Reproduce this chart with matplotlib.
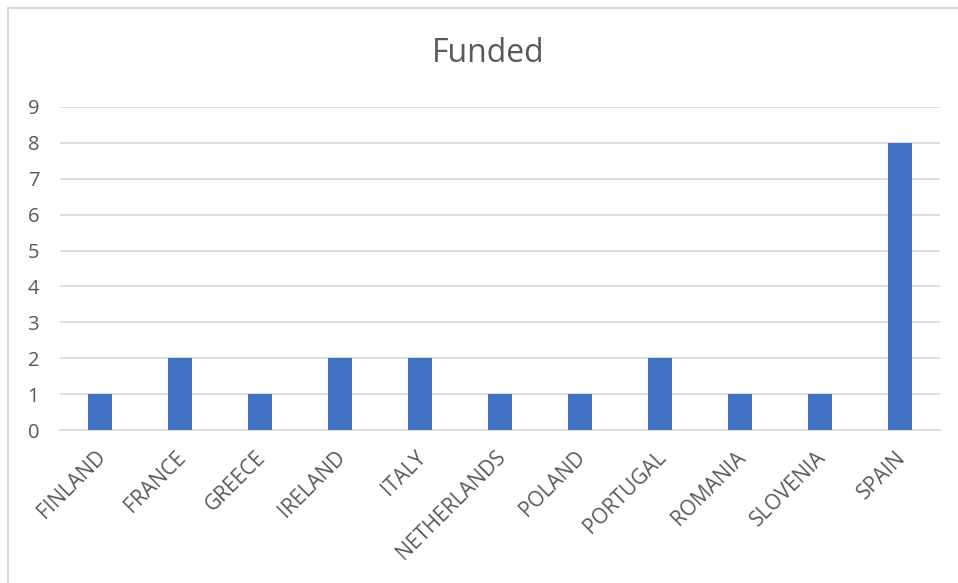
import matplotlib.pyplot as plt
from matplotlib.lines import Line2D
from matplotlib.transforms import ScaledTranslation

countries = ["FINLAND", "FRANCE", "GREECE", "IRELAND", "ITALY", "NETHERLANDS",
             "POLAND", "PORTUGAL", "ROMANIA", "SLOVENIA", "SPAIN"]
funded = [1, 2, 1, 2, 2, 1, 1, 2, 1, 1, 8]
y_ticks = list(range(0, 10))

plt.rcParams['font.family'] = ['Open Sans', 'DejaVu Sans']
text_color = '#595959'
grid_color = '#D9D9D9'

fig = plt.figure(figsize=(9.58, 5.83), dpi=100)
W, H = 958, 583
ax = fig.add_axes([60 / W, 1 - 430 / H, 880 / W, (430 - 107) / H])

x = range(len(countries))
ax.bar(x, funded, width=0.3, color='#4472C4', zorder=3)

ax.set_xlim(-0.5, len(countries) - 0.5)
ax.set_ylim(0, 9)
ax.set_yticks(y_ticks)
ax.set_yticklabels([str(v) for v in y_ticks], fontsize=14.5, color=text_color)
ax.set_xticks(list(x))
ax.set_xticklabels(countries, rotation=45, ha='right', rotation_mode='anchor',
                   fontsize=15, color=text_color)
ax.tick_params(axis='both', length=0)
ax.tick_params(axis='y', pad=15)
ax.tick_params(axis='x', pad=12)
# nudge the rotated labels a little to the left, like Excel
shift = ScaledTranslation(-3.5 / 72, 0, fig.dpi_scale_trans)
for lbl in ax.get_xticklabels():
    lbl.set_transform(lbl.get_transform() + shift)

ax.grid(axis='y', color=grid_color, linewidth=1.3, zorder=0)
for side in ['top', 'right', 'left']:
    ax.spines[side].set_visible(False)
ax.spines['bottom'].set_color(grid_color)
ax.spines['bottom'].set_linewidth(1.3)

fig.text(488 / W, 1 - 53 / H, "Funded", ha='center', va='center',
         fontsize=23, color=text_color)

# chart area border (top and left edges visible in the crop)
fig.add_artist(Line2D([8 / W, 1], [1 - 8 / H, 1 - 8 / H], color=grid_color, linewidth=1.5))
fig.add_artist(Line2D([8 / W, 8 / W], [0, 1 - 8 / H], color=grid_color, linewidth=1.5))

fig.savefig("out.png", dpi=100, facecolor='white')
